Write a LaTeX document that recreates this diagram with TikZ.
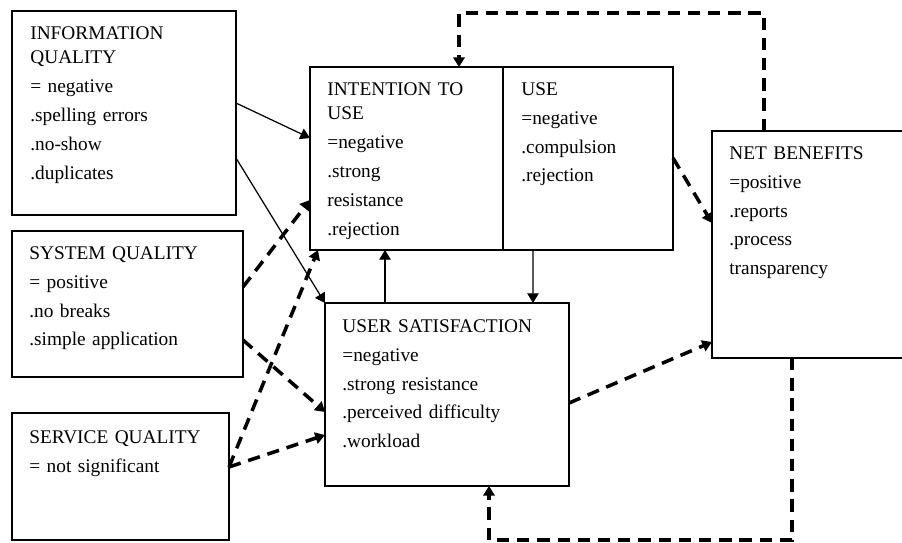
\documentclass[tikz,border=0pt]{standalone}
\usepackage{fontspec}
\setmainfont{Liberation Serif}
\usetikzlibrary{arrows.meta}

\begin{document}
\begin{tikzpicture}[>={Triangle[length=5.5pt,width=6.5pt]},
    box/.style={draw, line width=0.8pt, anchor=north west, inner sep=0pt, outer sep=0pt},
    txt/.style={anchor=base west, inner sep=0pt, text width=4.6cm, align=left, font=\fontsize{11}{16.5}\selectfont},
    pfeil/.style={->, line width=0.7pt},
    strich/.style={->, line width=2pt, dash pattern=on 7pt off 4.5pt}]
    \useasboundingbox (0,0) rectangle (18.04,-10.84);

    % Boxen
    \node[box, minimum width=4.48cm, minimum height=4.08cm] (iq) at (0.24,-0.22) {};
    \node[box, minimum width=4.62cm, minimum height=2.92cm] (sq) at (0.24,-4.62) {};
    \node[box, minimum width=4.34cm, minimum height=2.54cm] (svq) at (0.24,-8.26) {};
    \node[box, minimum width=3.86cm, minimum height=3.66cm] (itu) at (6.20,-1.34) {};
    \node[box, minimum width=3.40cm, minimum height=3.66cm] (use) at (10.06,-1.34) {};
    \node[box, minimum width=4.88cm, minimum height=3.66cm] (us) at (6.50,-6.06) {};
    \node[box, minimum width=4.00cm, minimum height=4.54cm] (nb) at (14.24,-2.62) {};

    % Texte
    \node[txt] (iqtext) at ([shift={(0.36,-0.56)}]iq.north west)
        {INFORMATION\\[-2.5pt] QUALITY\\ = negative\\ .spelling errors\\ .no-show\\ .duplicates};
    \node[txt] (sqtext) at ([shift={(0.34,-0.56)}]sq.north west)
        {SYSTEM QUALITY\\ = positive\\ .no breaks\\ .simple application};
    \node[txt] (svqtext) at ([shift={(0.34,-0.60)}]svq.north west)
        {SERVICE QUALITY\\ = not significant};
    \node[txt] (itutext) at ([shift={(0.34,-0.56)}]itu.north west)
        {INTENTION TO\\[-2.5pt] USE\\ =negative\\ .strong\\ resistance\\ .rejection};
    \node[txt] (usetext) at ([shift={(0.36,-0.56)}]use.north west)
        {USE\\ =negative\\ .compulsion\\ .rejection};
    \node[txt] (ustext) at ([shift={(0.34,-0.58)}]us.north west)
        {USER SATISFACTION\\ =negative\\ .strong resistance\\ .perceived difficulty\\ .workload};
    \node[txt] (nbtext) at ([shift={(0.34,-0.56)}]nb.north west)
        {NET BENEFITS\\ =positive\\ .reports\\ .process\\ transparency};

    % Pfeile
    \draw[pfeil] ([yshift=-1.84cm]iq.north east) -- ([yshift=-1.42cm]itu.north west);
    \draw[pfeil] ([yshift=-2.94cm]iq.north east) -- (us.north west);
    \draw[strich] ([yshift=-1.12cm]sq.north east) -- ([yshift=-2.66cm]itu.north west);
    \draw[strich] ([yshift=-2.18cm]sq.north east) -- ([yshift=-2.18cm]us.north west);
    \draw[strich] ([yshift=-1.08cm]svq.north east) -- ([xshift=0.16cm]itu.south west);
    \draw[strich] ([yshift=-1.08cm]svq.north east) -- ([yshift=-2.64cm]us.north west);
    \draw[pfeil] ([xshift=1.2cm]us.north west) -- ([xshift=1.5cm]itu.south west);
    \draw[pfeil] ([xshift=0.6cm]use.south west) -- ([xshift=4.16cm]us.north west);
    \draw[strich] ([yshift=-1.82cm]use.north east) -- ([yshift=-1.84cm]nb.north west);
    \draw[strich] ([yshift=-2cm]us.north east) -- ([yshift=-4.22cm]nb.north west);

    % Rueckkopplung
    \coordinate (oben) at (0,-0.26);
    \coordinate (unten) at (0,-10.80);
    \draw[strich] ([xshift=1.04cm]nb.north west) coordinate (nbo) -- (nbo |- oben)
        -| ([xshift=2.98cm]itu.north west);
    \draw[strich] ([xshift=1.6cm]nb.south west) coordinate (nbu) -- (nbu |- unten)
        -| ([xshift=3.28cm]us.south west);
\end{tikzpicture}
\end{document}
